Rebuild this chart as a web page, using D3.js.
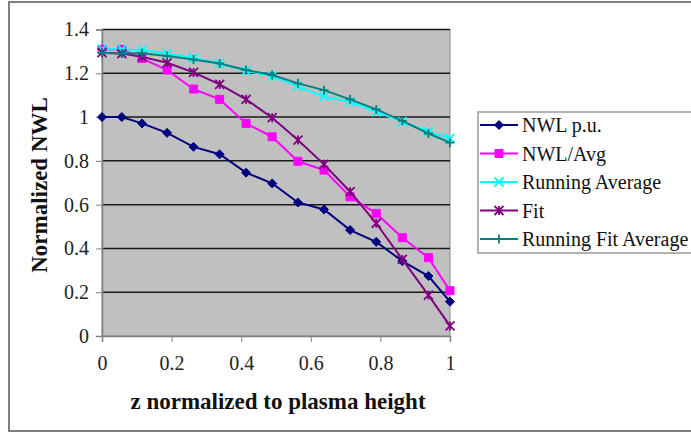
<!DOCTYPE html>
<html>
<head>
<meta charset="utf-8">
<script src="https://cdn.jsdelivr.net/npm/d3@7"></script>
<style>
  body { margin: 0; background: #fff; }
  svg text { font-family: "Liberation Serif", "DejaVu Serif", serif !important; }
</style>
</head>
<body>
<div id="chart"></div>
<script>
// z positions (normalized to plasma height)
var zValues = [0, 0.057, 0.115, 0.187, 0.263, 0.338, 0.414, 0.489, 0.563, 0.638, 0.713, 0.788, 0.863, 0.938, 1];

// series values
var nwlPu       = [1.0, 1.0, 0.971, 0.928, 0.864, 0.83, 0.746, 0.697, 0.61, 0.578, 0.484, 0.43, 0.342, 0.274, 0.157];
var nwlAvg      = [1.309, 1.309, 1.268, 1.215, 1.128, 1.081, 0.971, 0.91, 0.798, 0.758, 0.636, 0.56, 0.449, 0.358, 0.207];
var runningAvg  = [1.31, 1.31, 1.306, 1.29, 1.27, 1.245, 1.211, 1.187, 1.14, 1.093, 1.07, 1.024, 0.979, 0.933, 0.903];
var fit         = [1.294, 1.29, 1.275, 1.248, 1.204, 1.149, 1.081, 0.997, 0.895, 0.784, 0.659, 0.515, 0.35, 0.187, 0.046];
var runningFit  = [1.293, 1.29, 1.291, 1.279, 1.263, 1.245, 1.215, 1.192, 1.154, 1.123, 1.081, 1.035, 0.983, 0.925, 0.883];

var seriesNames = ["NWL p.u.", "NWL/Avg", "Running Average", "Fit", "Running Fit Average"];
var xTicks = [0, 0.2, 0.4, 0.6, 0.8, 1];
var yTicks = [0, 0.2, 0.4, 0.6, 0.8, 1, 1.2, 1.4];

var series = [
  {name: seriesNames[0], values: nwlPu,      color: "#000080", marker: "diamond"},
  {name: seriesNames[1], values: nwlAvg,     color: "#ff00ff", marker: "square"},
  {name: seriesNames[2], values: runningAvg, color: "#00ffff", marker: "cross"},
  {name: seriesNames[3], values: fit,        color: "#800080", marker: "star"},
  {name: seriesNames[4], values: runningFit, color: "#008080", marker: "plus"}
];

var W = 691, H = 435;
var plot = {left: 102, right: 450, top: 29.5, bottom: 336};

var svg = d3.select("#chart").append("svg")
  .attr("width", W).attr("height", H);

// outer chart border
svg.append("rect")
  .attr("x", 9).attr("y", 2).attr("width", 700).attr("height", 429)
  .attr("fill", "#fff").attr("stroke", "#7f7f7f").attr("stroke-width", 2);

var x = d3.scaleLinear().domain([0, 1]).range([plot.left, plot.right]);
var y = d3.scaleLinear().domain([0, 1.4]).range([plot.bottom, plot.top]);

// plot area background
svg.append("rect")
  .attr("x", plot.left).attr("y", plot.top)
  .attr("width", plot.right - plot.left).attr("height", plot.bottom - plot.top)
  .attr("fill", "#c0c0c0").attr("stroke", "#8a8a8a").attr("stroke-width", 1);

// gridlines
svg.append("g").selectAll("line")
  .data(yTicks.filter(function(d){ return d > 0; }))
  .enter().append("line")
    .attr("x1", plot.left).attr("x2", plot.right)
    .attr("y1", function(d){ return y(d); }).attr("y2", function(d){ return y(d); })
    .attr("stroke", "#1a1a1a").attr("stroke-width", 1.5);

// axes
var yAxis = svg.append("g")
  .attr("transform", "translate(" + plot.left + ",0)")
  .call(d3.axisLeft(y).tickValues(yTicks).tickFormat(d3.format("~g")).tickSize(6).tickPadding(7));
var xAxis = svg.append("g")
  .attr("transform", "translate(0," + plot.bottom + ")")
  .call(d3.axisBottom(x).tickValues(xTicks).tickFormat(d3.format("~g")).tickSize(6).tickPadding(14));

[yAxis, xAxis].forEach(function(a){
  a.attr("font-family", null);
  a.select(".domain").attr("stroke", "#808080").attr("stroke-width", 1.5);
  a.selectAll(".tick line").attr("stroke", "#808080");
  a.selectAll(".tick text")
    .attr("font-size", 20).attr("fill", "#222");
});

// marker shapes
function markerPath(type, s) {
  var p = d3.path();
  if (type == "diamond") {
    p.moveTo(0, -s); p.lineTo(s, 0); p.lineTo(0, s); p.lineTo(-s, 0); p.closePath();
  } else if (type == "square") {
    p.rect(-s, -s, 2 * s, 2 * s);
  } else if (type == "cross") {
    p.moveTo(-s, -s); p.lineTo(s, s); p.moveTo(s, -s); p.lineTo(-s, s);
  } else if (type == "star") {
    p.moveTo(-s, -s); p.lineTo(s, s); p.moveTo(s, -s); p.lineTo(-s, s);
    p.moveTo(0, -s); p.lineTo(0, s);
  } else if (type == "plus") {
    p.moveTo(0, -s); p.lineTo(0, s); p.moveTo(-s, 0); p.lineTo(s, 0);
  }
  return p.toString();
}
function drawMarker(sel, d, color) {
  var filled = d.marker == "diamond" || d.marker == "square";
  var size = d.marker == "square" ? 4 : 4.5;
  sel.append("path")
    .attr("d", markerPath(d.marker, size))
    .attr("fill", filled ? color : "none")
    .attr("stroke", color)
    .attr("stroke-width", filled ? 1 : 1.8);
}

var line = d3.line()
  .x(function(d, i){ return x(zValues[i]); })
  .y(function(d){ return y(d); });

// draw series in order
series.forEach(function(s){
  var g = svg.append("g");
  g.append("path")
    .attr("d", line(s.values))
    .attr("fill", "none")
    .attr("stroke", s.color)
    .attr("stroke-width", 2);
  g.selectAll("g.pt")
    .data(s.values)
    .enter().append("g")
      .attr("class", "pt")
      .attr("transform", function(d, i){ return "translate(" + x(zValues[i]) + "," + y(d) + ")"; })
      .each(function(){ drawMarker(d3.select(this), s, s.color); });
});

// axis titles
svg.append("text")
  .attr("x", (plot.left + plot.right) / 2 + 2).attr("y", 409)
  .attr("text-anchor", "middle")
  .attr("font-size", 23).attr("font-weight", "bold").attr("fill", "#111")
  .text("z normalized to plasma height");

svg.append("text")
  .attr("transform", "translate(47,185) rotate(-90)")
  .attr("text-anchor", "middle")
  .attr("font-size", 23).attr("font-weight", "bold").attr("fill", "#111")
  .text("Normalized NWL");

// legend
var legend = svg.append("g").attr("transform", "translate(478,112)");
legend.append("rect")
  .attr("x", 0).attr("y", 0).attr("width", 230).attr("height", 141)
  .attr("fill", "#fff").attr("stroke", "#9a9a9a").attr("stroke-width", 1.5);

var items = legend.selectAll("g.item")
  .data(series)
  .enter().append("g")
    .attr("class", "item")
    .attr("transform", function(d, i){ return "translate(0," + (13 + i * 28.5) + ")"; });

items.append("line")
  .attr("x1", 2).attr("x2", 40)
  .attr("stroke", function(d){ return d.color; })
  .attr("stroke-width", 2);
items.append("g")
  .attr("transform", "translate(21,0)")
  .each(function(d){ drawMarker(d3.select(this), d, d.color); });
items.append("text")
  .attr("x", 44).attr("y", 7)
  .attr("font-size", 20).attr("fill", "#111")
  .text(function(d){ return d.name; });
</script>
</body>
</html>
